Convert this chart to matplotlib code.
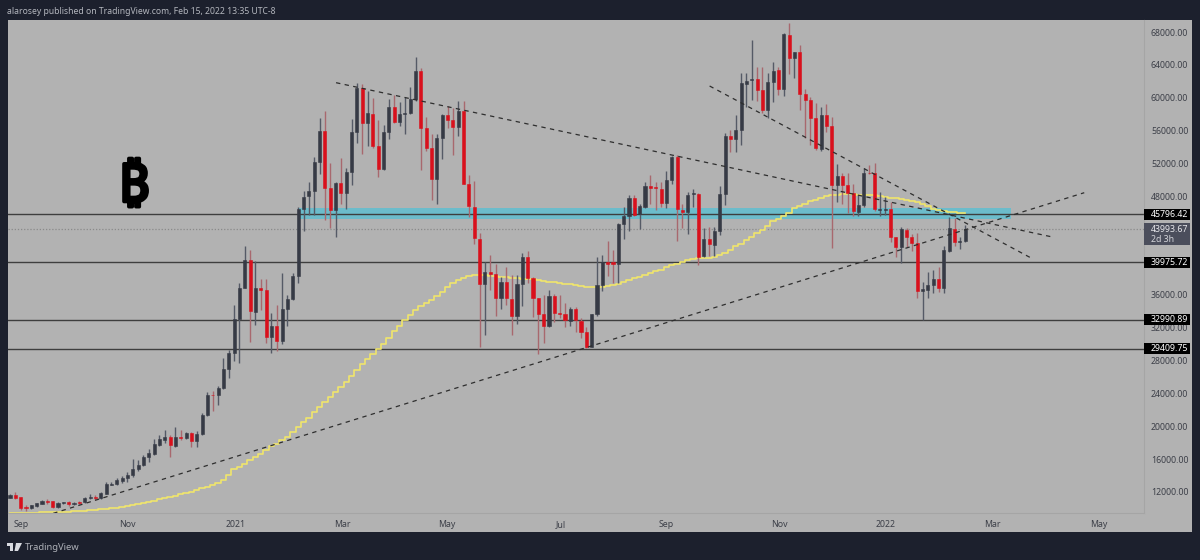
import matplotlib
matplotlib.use('Agg')
import matplotlib.pyplot as plt
import matplotlib.patheffects as pe
from matplotlib.patches import Rectangle, Polygon

# 3-day candles
opens = [11269, 11675, 11350, 10214, 10011, 10296, 10580, 10864, 10864, 10174,
         10661, 10783, 10498, 10823, 10783, 11310, 11391, 11269, 11797, 12893,
         12933, 13339, 13664, 14070, 14759, 15246, 16261, 16667, 17722, 18371,
         18696, 17600, 18736, 18614, 19142, 18209, 19101, 21333, 23849, 23809,
         24661, 26974, 28962, 33020, 36875, 40243, 33953, 36794, 36591, 30829,
         32249, 30382, 34318, 35455, 38295, 46411, 48034, 48643, 52174, 55907,
         48968, 46330, 49658, 48400, 50997, 55866, 61142, 56962, 58058, 54121,
         51362, 55826, 58829, 57084, 58058, 58180, 59803, 63252, 56272, 53837,
         50104, 55136, 57855, 57246, 56475, 58382, 49455, 46736, 42840, 37362,
         38823, 38539, 35657, 37525, 35495, 33426, 37322, 40568, 38093, 35577,
         33629, 32209, 35902, 33791, 33670, 32858, 34238, 32858, 31519, 29693,
         33629, 37241, 39960, 39960, 39716, 44626, 45600, 47832, 45844, 46737,
         49293, 49090, 48928, 47142, 49983, 52742, 46331, 46047, 48238, 48279,
         40731, 42841, 42030, 43815, 48278, 55380, 54975, 56030, 61711, 62117,
         62238, 60899, 58505, 61914, 63334, 61021, 67636, 64876, 65525, 60412,
         59763, 57572, 53757, 57856, 56557, 49334, 50511, 49415, 48360, 46128,
         46899, 50876, 50795, 46290, 46290, 46412, 43003, 41867, 43937, 43085,
         42355, 36511, 36592, 37160, 37890, 36876, 41381, 44058, 42395, 42557]
highs = [11720, 12040, 11432, 10417, 10458, 10701, 11067, 11148, 10945, 10783,
         10823, 10864, 10823, 10904, 11432, 11716, 11635, 12040, 13217, 13217,
         13745, 13988, 14394, 15977, 15896, 16464, 17194, 18493, 18980, 19548,
         18980, 19954, 19548, 19345, 19345, 19467, 21577, 24214, 24336, 24904,
         28313, 29300, 34765, 37403, 41988, 41461, 40121, 37970, 37890, 33832,
         34765, 38620, 35982, 38701, 46736, 48684, 49698, 52823, 57571, 58423,
         52093, 49779, 52660, 51443, 57409, 61751, 61669, 60858, 59924, 57287,
         56678, 59803, 60330, 59519, 60127, 61264, 64916, 63577, 57611, 55582,
         55542, 58017, 58991, 58707, 59600, 59600, 50591, 49860, 43570, 40040,
         40852, 39756, 38133, 39431, 38417, 38418, 41136, 41380, 38215, 35658,
         35983, 36592, 36105, 35983, 34968, 34563, 34481, 33142, 32128, 33629,
         40568, 40893, 42598, 41461, 44707, 46737, 48157, 48157, 47061, 49780,
         50592, 49780, 49780, 51119, 52905, 53027, 47061, 48522, 48847, 48360,
         44099, 44302, 44221, 49293, 55746, 56070, 57896, 62969, 62969, 67027,
         63780, 63780, 62969, 64389, 63780, 67838, 69056, 65606, 66418, 61021,
         60128, 59398, 58911, 59235, 57612, 51931, 50795, 50795, 49496, 48157,
         51404, 51810, 52094, 48563, 47873, 47346, 43085, 44302, 44099, 43409,
         43490, 37606, 38783, 39026, 39432, 41949, 45519, 45316, 43085, 44505]
lows = [11230, 11148, 9809, 9728, 9930, 10214, 10539, 10498, 10093, 10093,
        10539, 10336, 10417, 10498, 10701, 11148, 11026, 11188, 11716, 12812,
        12852, 13136, 13177, 13866, 14597, 15165, 15693, 16545, 17600, 17925,
        16220, 17438, 18331, 18452, 17519, 17519, 18939, 21252, 21901, 22591,
        24498, 25838, 27988, 27744, 36794, 30301, 32330, 34156, 30098, 28962,
        29205, 30017, 32208, 35374, 37403, 43814, 45721, 45721, 50713, 45113,
        44098, 43084, 47060, 46411, 49374, 54446, 53147, 54121, 53837, 50388,
        51200, 54933, 56881, 56556, 55542, 58017, 59640, 51200, 53554, 47548,
        47060, 52498, 56272, 53026, 55339, 49455, 45519, 42191, 29692, 31113,
        36591, 33425, 34237, 34765, 31113, 32453, 34644, 37403, 33345, 28800,
        30099, 32047, 32736, 33142, 32128, 32209, 31519, 30707, 29490, 29612,
        33467, 36429, 38337, 37484, 37403, 42841, 43774, 45600, 43977, 46534,
        47061, 46331, 46737, 46615, 49496, 42597, 44099, 43409, 46656, 39635,
        40568, 40731, 40731, 43287, 46940, 53432, 53432, 54244, 58911, 59722,
        59641, 58099, 57491, 59520, 60331, 60209, 62847, 62441, 58505, 55056,
        54244, 53636, 53554, 55867, 41664, 47264, 47021, 45925, 45641, 45641,
        46737, 50714, 46250, 45641, 45722, 42476, 40568, 39918, 41786, 41381,
        35577, 32940, 35577, 36186, 36389, 36267, 41259, 41949, 41624, 42476]
closes = [11675, 11310, 10093, 10052, 10377, 10620, 10904, 10783, 10174, 10661,
          10783, 10498, 10701, 10701, 11310, 11391, 11310, 11838, 12933, 12974,
          13420, 13664, 14110, 14759, 15287, 16301, 16707, 17803, 18412, 18696,
          17681, 18736, 18614, 19142, 18209, 19061, 21374, 23849, 23768, 24661,
          27015, 28922, 33020, 36875, 40243, 34075, 36794, 36591, 30829, 32249,
          30382, 34318, 35455, 38295, 46452, 47953, 48643, 52174, 55988, 48968,
          46330, 49658, 48440, 50997, 55866, 61223, 56962, 58098, 54121, 51362,
          55826, 58829, 57084, 58017, 58180, 59884, 63293, 56313, 53837, 50104,
          55136, 57855, 57246, 56475, 58342, 49495, 46817, 42881, 37362, 38823,
          38539, 35657, 37565, 35576, 33425, 37322, 40568, 38093, 35577, 33629,
          32249, 35902, 33832, 33670, 32939, 34238, 32899, 31519, 29693, 33629,
          37241, 39960, 39716, 39716, 44667, 45560, 47832, 45722, 46777, 49293,
          49050, 48968, 47142, 49983, 52742, 46453, 46087, 48198, 48360, 40650,
          42841, 42192, 43815, 48278, 55340, 54975, 56030, 61751, 62076, 62238,
          60899, 58505, 61914, 63293, 61062, 67717, 64876, 65525, 60412, 59763,
          57572, 53920, 57856, 56598, 49375, 50511, 49375, 48360, 46250, 46899,
          50795, 50795, 46493, 46412, 46453, 43085, 41827, 43977, 43044, 42355,
          36470, 36673, 37160, 37890, 36876, 41421, 44099, 42436, 42517, 43977]

# yellow moving average, one value per candle
ma_values = [9400, 9410, 9430, 9450, 9470, 9490, 9505, 9515, 9525, 9550,
             9580, 9610, 9640, 9680, 9720, 9760, 9800, 9870, 9950, 10020,
             10090, 10200, 10310, 10420, 10560, 10690, 10820, 10950, 11090, 11210,
             11380, 11550, 11720, 11880, 12040, 12210, 12430, 12650, 12850, 13150,
             13450, 14100, 14800, 15000, 15450, 15900, 16300, 16650, 17150, 17600,
             17900, 18300, 18750, 19300, 19950, 20500, 21050, 21700, 22350, 23000,
             23600, 24200, 24800, 25400, 26100, 26800, 27550, 28200, 28800, 29400,
             30050, 30800, 31600, 32200, 32950, 33500, 34100, 34600, 35000, 35400,
             35800, 36300, 36900, 37400, 37800, 38100, 38300, 38400, 38380, 38370,
             38350, 38300, 38200, 38130, 38050, 38000, 37980, 37950, 37900, 37800,
             37700, 37620, 37550, 37450, 37350, 37300, 37180, 37050, 36930, 36900,
             36950, 37000, 37100, 37180, 37350, 37600, 37800, 38000, 38200, 38400,
             38600, 38850, 39050, 39350, 39600, 39800, 39950, 40200, 40400, 40450,
             40500, 40530, 40580, 40850, 41100, 41500, 41900, 42200, 42700, 43000,
             43500, 43950, 44400, 44950, 45200, 45600, 45950, 46600, 46800, 47100,
             47400, 47600, 47850, 48050, 48150, 48200, 48240, 48240, 48220, 48200,
             48180, 48150, 48100, 48050, 47950, 47850, 47750, 47650, 47550, 47450,
             47250, 47050, 46800, 46500, 46350, 46200, 46050, 46030, 46010, 46000]

# horizontal levels and the zone around the first one
levels = [45796.42, 39975.72, 32990.89, 29409.75]
level_labels = ['45796.42', '39975.72', '32990.89', '29409.75']
zone_low, zone_high = 45200, 46530
zone_start, zone_end = 54.2, 187.5
last_price = 43993.67

# trendlines: (bar, price) pairs
trend_up = ([8.1, 201.3], [9400, 48436])
trend_down_long = ([61.1, 195.6], [61829, 43007])
trend_down_steep = ([131.1, 191.1], [61426, 40572])

# 40000 and 44000 sit behind the price tags in the original
price_ticks = [12000, 16000, 20000, 24000, 28000, 32000, 36000, 48000, 52000, 56000, 60000, 64000, 68000]
time_ticks = [2, 22.1, 42.2, 62.2, 81.9, 103.2, 122.9, 144.1, 164.1, 184, 204]
time_labels = ['Sep', 'Nov', '2021', 'Mar', 'May', 'Jul', 'Sep', 'Nov', '2022', 'Mar', 'May']

FRAME = '#1c202d'
PANEL = '#b2b2b2'
DARK = '#363a45'
RED = '#d9101c'
FONT = 'Noto Sans'
FS = 6.3

fig = plt.figure(figsize=(12, 5.6), dpi=100, facecolor=FRAME)
# chart panel including the axis strips
fig.add_artist(Rectangle((8 / 1200, 1 - 532 / 560), 1184 / 1200, 512 / 560,
                         transform=fig.transFigure, fc=PANEL, ec='none', zorder=-1))

ax = fig.add_axes([8 / 1200, 1 - 513 / 560, 1136 / 1200, 493 / 560], facecolor=PANEL)
ax.set_xlim(-0.375, 212.5)
ax.set_ylim(9443, 69461)

ax.add_patch(Rectangle((zone_start, zone_low), zone_end - zone_start, zone_high - zone_low,
                       fc='#6cbccb', ec='none', zorder=0.5))
ax.axhline(last_price, color='#8a8a8a', lw=0.9, ls=(0, (1, 1.5)), zorder=0.8)
for level in levels:
    ax.axhline(level, color='#3e3e3e', lw=1.0, zorder=1)

bars = list(range(len(closes)))
ax.step(bars, ma_values, where='mid', color='#f0e56c', lw=1.2, zorder=2)

for i in bars:
    up = closes[i] >= opens[i]
    wick = '#555a66' if up else '#a8686e'
    body = DARK if up else RED
    ax.vlines(i, lows[i], highs[i], color=wick, lw=1.0, zorder=3)
    ax.bar(i, abs(closes[i] - opens[i]), bottom=min(opens[i], closes[i]), width=0.58,
           color=body, edgecolor=body, linewidth=0.4, zorder=4)

for xs, ys in (trend_up, trend_down_long, trend_down_steep):
    ax.plot(xs, ys, color='#2e2e2e', lw=0.9, ls=(0, (3.5, 3.5)), zorder=5)

ax.yaxis.tick_right()
ax.set_yticks(price_ticks, [f'{t}.00' for t in price_ticks], fontname=FONT, fontsize=FS, color='#3c3f48')
ax.set_xticks(time_ticks, time_labels, fontname=FONT, fontsize=FS, color='#3c3f48')
ax.tick_params(axis='y', length=0, pad=5)
ax.tick_params(axis='x', length=0, pad=5)
for side in ('top', 'left'):
    ax.spines[side].set_visible(False)
for side in ('right', 'bottom'):
    ax.spines[side].set_color('#a5a5a5')
    ax.spines[side].set_linewidth(0.8)

# price tags on the axis
tag_trans = ax.get_yaxis_transform()
tag_w = 46 / 1136
tag_text_x = 1 + 7 / 1136
for level, label in zip(levels, level_labels):
    ax.add_patch(Rectangle((1, level - 670), tag_w, 1340, transform=tag_trans, fc='black', ec='none',
                           clip_on=False, zorder=9))
    ax.text(tag_text_x, level, label, transform=tag_trans, ha='left', va='center', fontname=FONT,
            fontsize=FS, color='white', zorder=10, clip_on=False)
ax.add_patch(Rectangle((1, 42070), tag_w, 2715, transform=tag_trans, fc='#4b4e5c', ec='none',
                       clip_on=False, zorder=9))
ax.text(tag_text_x, 43950, '43993.67', transform=tag_trans, ha='left', va='center', fontname=FONT,
        fontsize=FS, color='#e8e8ec', zorder=10, clip_on=False)
ax.text(tag_text_x, 42740, '2d 3h', transform=tag_trans, ha='left', va='center', fontname=FONT,
        fontsize=FS, color='#d4d5da', zorder=10, clip_on=False)

fig.text(134 / 1200, 1 - 188 / 560, '\u20bf', family=['Noto Sans', 'Roboto', 'Inter', 'Open Sans', 'Lato', 'DejaVu Sans'],
         fontweight='bold', fontsize=38, color='black', va='center', ha='center',
         path_effects=[pe.withStroke(linewidth=2.6, foreground='black')])
fig.text(7 / 1200, 1 - 11 / 560, 'alarosey published on TradingView.com, Feb 15, 2022 13:35 UTC-8',
         fontname=FONT, fontsize=6.2, color='#b4b7be', va='center')
fig.text(25 / 1200, 1 - 547 / 560, 'TradingView', fontname=FONT, fontsize=6.8, color='#aeb1b8', va='center')

# TradingView mark
logo = [[(7, 543), (13, 543), (13, 551), (10, 551), (10, 546), (7, 546)],
        [(16, 543), (22, 543), (18, 551), (14.5, 551)]]
for pts in logo:
    fig.add_artist(Polygon([(x / 1200, 1 - y / 560) for x, y in pts], transform=fig.transFigure,
                           fc='#d8dae0', ec='none'))

fig.savefig('out.png', dpi=100, facecolor=FRAME)
